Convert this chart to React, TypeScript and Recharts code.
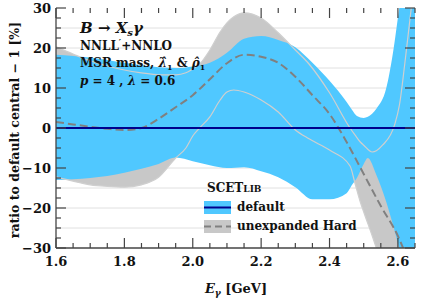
import { ComposedChart, Area, Line, XAxis, YAxis, CartesianGrid } from "recharts";

// default band (blue)
const blueE = [1.6, 1.65, 1.7, 1.75, 1.8, 1.85, 1.9, 1.95, 2.0, 2.05, 2.1, 2.15, 2.2, 2.25, 2.3, 2.35, 2.4, 2.45, 2.465, 2.48, 2.5, 2.512, 2.537, 2.566, 2.585, 2.604, 2.625, 2.65];
const blueHi = [18.3, 18, 17.6, 17, 16.3, 15.7, 15.2, 15, 15.4, 16.3, 18.8, 22.3, 23, 22, 20.2, 16.3, 11.8, 6.5, 4.6, 3, 2.5, 2.8, 4.8, 10, 18.5, 30, 42, 55];
const blueLo = [-13, -12.8, -12.5, -12, -11.2, -10.2, -9, -7.4, -8.3, -9.3, -10, -9.8, -10.8, -12.3, -14.8, -17.8, -17.8, -16.3, -14.3, -12.5, -9, -7.5, -11.75, -18.5, -24, -30, -36, -42];

// unexpanded Hard band (gray)
const grayE = [1.6, 1.65, 1.7, 1.75, 1.8, 1.85, 1.9, 1.95, 1.98, 2.0, 2.02, 2.05, 2.08, 2.1, 2.12, 2.15, 2.2, 2.25, 2.3, 2.34, 2.4, 2.46, 2.475, 2.49, 2.5, 2.525, 2.537, 2.555, 2.59, 2.605, 2.62, 2.635, 2.65];
const grayHi = [20.3, 18.5, 16.8, 15.5, 14.5, 13.8, 13.3, 13.3, 13.8, 14.8, 16, 19.5, 24, 26.3, 27.8, 28.8, 27.5, 23.8, 19.5, 16, 8.8, 0, -1.8, -3.5, -4.3, -6, -5.7, -4.3, 0.7, 6, 16, 27, 38];
const grayLo = [-12.2, -13.3, -14.2, -14.6, -14.8, -14.2, -12.3, -7.5, -5, -2, 0, 2.8, 7, 9, 9.5, 9, 7, 4, -0.5, -2.7, -5.5, -9.5, -14, -18.5, -21, -27, -30, -34, -38, -40, -41, -42, -43];

// unexpanded Hard central
const dashE = [1.6, 1.65, 1.7, 1.75, 1.8, 1.85, 1.9, 1.95, 2.0, 2.05, 2.1, 2.15, 2.2, 2.25, 2.3, 2.35, 2.4, 2.45, 2.5, 2.55, 2.6, 2.62];
const dashV = [1.5, 0.9, 0.3, -0.2, -0.5, 0, 2.3, 5.2, 8.2, 12.2, 16.2, 18.3, 17.8, 16.3, 12.8, 8.2, 3.5, -3.5, -11.5, -19.5, -27, -31];

// default central
const centralE = [1.6, 2.65];
const centralV = [0, 0];

const xLabelTicks = [1.6, 1.8, 2.0, 2.2, 2.4, 2.6];
const xMinorTicks = [1.6, 1.65, 1.7, 1.75, 1.8, 1.85, 1.9, 1.95, 2.0, 2.05, 2.1, 2.15, 2.2, 2.25, 2.3, 2.35, 2.4, 2.45, 2.5, 2.55, 2.6, 2.65];
const yLabelTicks = [-30, -20, -10, 0, 10, 20, 30];
const yMinorTicks = [-30, -27.5, -25, -22.5, -20, -17.5, -15, -12.5, -10, -7.5, -5, -2.5, 0, 2.5, 5, 7.5, 10, 12.5, 15, 17.5, 20, 22.5, 25, 27.5, 30];
const gridValues = [-25, -20, -15, -10, -5, 5, 10, 15, 20, 25];

const blueData = blueE.map((e, i) => ({ e, band: [blueLo[i], blueHi[i]] }));
const grayData = grayE.map((e, i) => ({ e, band: [grayLo[i], grayHi[i]], lo: grayLo[i], hi: grayHi[i] }));
const dashData = dashE.map((e, i) => ({ e, v: dashV[i] }));
const centralData = centralE.map((e, i) => ({ e, v: centralV[i] }));

const serif = "DejaVu Serif";
const BLUE = "#50c8ff";
const GRAY = "#c8c8c8";
const FRAME = "#444";
const X_DOMAIN: [number, number] = [1.6, 2.65];
const Y_DOMAIN: [number, number] = [-30, 30];

const W = 424;
const H = 299;
const margin = { top: 8, right: 9, bottom: 21, left: 0 };
const X_MARGIN = 9;
const Y_MARGIN = 5;
const MAJOR = 10;
const MINOR = 5;

const isIn = (list: number[], v: number) => list.some((t) => Math.abs(t - v) < 1e-6);
const fmtY = (v: number) => (v < 0 ? `\u2212${Math.abs(v)}` : `${v}`);
const labelFont = { fontFamily: serif, fontWeight: "bold" as const, fontSize: 13, fill: "#111" };

// x ticks: inward marks on bottom and top edges, labels on majors
const XTick = (props: any) => {
  const { x, y, payload } = props;
  const v = payload.value as number;
  const major = isIn(xLabelTicks, v);
  const len = major ? MAJOR : MINOR;
  const bottom = y - X_MARGIN;
  const top = margin.top;
  return (
    <g>
      <line x1={x} x2={x} y1={bottom} y2={bottom - len} stroke={FRAME} strokeWidth={1.2} />
      <line x1={x} x2={x} y1={top} y2={top + len} stroke={FRAME} strokeWidth={1.2} />
      {major && (
        <text x={x} y={y} dy="0.71em" textAnchor="middle" {...labelFont}>{v.toFixed(1)}</text>
      )}
    </g>
  );
};

// y ticks: inward marks on left and right edges, labels on majors
const YTick = (props: any) => {
  const { x, y, payload } = props;
  const v = payload.value as number;
  const major = isIn(yLabelTicks, v);
  const len = major ? MAJOR : MINOR;
  const left = x + Y_MARGIN;
  const right = W - margin.right;
  return (
    <g>
      <line x1={left} x2={left + len} y1={y} y2={y} stroke={FRAME} strokeWidth={1.2} />
      <line x1={right} x2={right - len} y1={y} y2={y} stroke={FRAME} strokeWidth={1.2} />
      {major && (
        <text x={x} y={y} dy="0.36em" textAnchor="end" {...labelFont}>{fmtY(v)}</text>
      )}
    </g>
  );
};

export default function App() {
  const frame = { stroke: FRAME, strokeWidth: 1.3 };
  return (
    <div style={{ position: "absolute", left: 0, top: 0, width: W, height: H, background: "#fff" }}>
      <ComposedChart width={W} height={H} margin={margin}>
        <CartesianGrid xAxisId="x" yAxisId="y" vertical={false} horizontalValues={gridValues} stroke="#e0e0e0" />

        <Area xAxisId="x" yAxisId="y" data={grayData} dataKey="band" type="monotone" fill={GRAY} fillOpacity={1}
          stroke="none" isAnimationActive={false} />
        <Area xAxisId="x" yAxisId="y" data={blueData} dataKey="band" type="monotone" fill={BLUE} fillOpacity={1}
          stroke="none" isAnimationActive={false} />
        <Line xAxisId="x" yAxisId="y" data={grayData} dataKey="hi" type="monotone" stroke="#cfcfcf" strokeWidth={1.2}
          dot={false} isAnimationActive={false} />
        <Line xAxisId="x" yAxisId="y" data={grayData} dataKey="lo" type="monotone" stroke="#cfcfcf" strokeWidth={1.2}
          dot={false} isAnimationActive={false} />
        <Line xAxisId="x" yAxisId="y" data={dashData} dataKey="v" type="monotone" stroke="#808080" strokeWidth={2}
          strokeDasharray="8 4" dot={false} isAnimationActive={false} />
        <Line xAxisId="x" yAxisId="y" data={centralData} dataKey="v" type="linear" stroke="#00008c" strokeWidth={2}
          dot={false} isAnimationActive={false} />

        <XAxis xAxisId="x" dataKey="e" type="number" domain={X_DOMAIN} allowDataOverflow ticks={xMinorTicks} interval={0}
          tickLine={false} axisLine={frame} tickSize={0} tickMargin={X_MARGIN} height={30} tick={<XTick />} />
        <YAxis yAxisId="y" type="number" domain={Y_DOMAIN} allowDataOverflow ticks={yMinorTicks} interval={0}
          tickLine={false} axisLine={frame} tickSize={0} tickMargin={Y_MARGIN} width={56} tick={<YTick />} />
        <XAxis xAxisId="xtop" type="number" domain={X_DOMAIN} allowDataOverflow orientation="top" mirror height={0}
          tick={false} tickLine={false} axisLine={frame} />
        <YAxis yAxisId="yright" type="number" domain={Y_DOMAIN} allowDataOverflow orientation="right" mirror width={0}
          tick={false} tickLine={false} axisLine={frame} />
      </ComposedChart>

      <svg width={W} height={H} style={{ position: "absolute", left: 0, top: 0, pointerEvents: "none" }}
        fontFamily={serif} fontWeight="bold" fill="#111">
        <text x={80} y={33} fontSize={15} fontStyle="italic">
          B<tspan fontStyle="normal"> → </tspan>X<tspan fontSize={10} dy={3}>s</tspan><tspan dy={-3}>γ</tspan>
        </text>
        <text x={80} y={50} fontSize={12}>
          NNLL<tspan fontSize={9} dy={-4}>′</tspan><tspan dy={4}>+NNLO</tspan>
        </text>
        <text x={80} y={67} fontSize={12}>
          MSR mass, <tspan fontStyle="italic">λ̂</tspan><tspan fontSize={8} dy={3}>1</tspan>
          <tspan dy={-3}> &amp; </tspan><tspan fontStyle="italic">ρ̂</tspan><tspan fontSize={8} dy={3}>1</tspan>
        </text>
        <text x={80} y={85} fontSize={12}>
          <tspan fontStyle="italic">p</tspan> = 4 , <tspan fontStyle="italic">λ</tspan> = 0.6
        </text>

        <text x={207} y={192} fontSize={12}>
          SCET<tspan fontSize={9}>LIB</tspan>
        </text>
        <rect x={204} y={201} width={27} height={13} fill={BLUE} />
        <line x1={204} x2={231} y1={207.5} y2={207.5} stroke="#00008c" strokeWidth={2} />
        <text x={237} y={211} fontSize={12}>default</text>
        <rect x={204} y={220} width={27} height={13} fill={GRAY} />
        <line x1={204} x2={231} y1={226.5} y2={226.5} stroke="#808080" strokeWidth={2} strokeDasharray="7 4" />
        <text x={237} y={230} fontSize={12}>unexpanded Hard</text>

        <text x={19} y={130} fontSize={12.5} textAnchor="middle" transform="rotate(-90 19 130)">
          ratio to default central − 1 [%]
        </text>
        <text x={236} y={293} fontSize={13} textAnchor="middle">
          <tspan fontStyle="italic">E</tspan><tspan fontSize={9} dy={3} fontStyle="italic">γ</tspan>
          <tspan dy={-3}> [GeV]</tspan>
        </text>
      </svg>
    </div>
  );
}
